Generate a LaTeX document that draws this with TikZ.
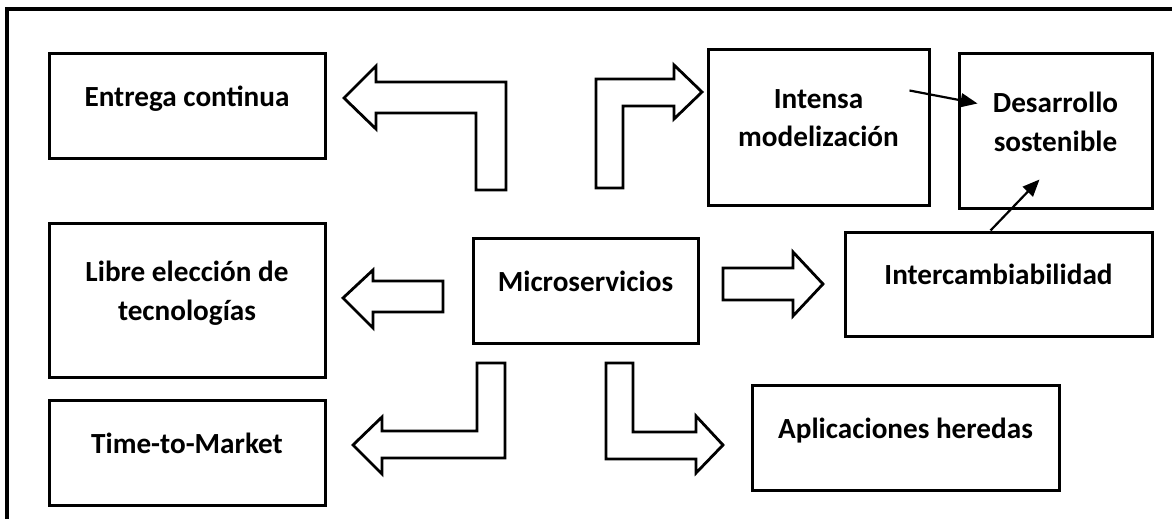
\documentclass[tikz,border=0pt]{standalone}
\usepackage{fontspec}
\setmainfont{Carlito}
\usetikzlibrary{arrows.meta}

\begin{document}
\begin{tikzpicture}[x=0.5pt, y=-0.5pt,
  box/.style={rectangle, draw, line width=1.5pt, align=center, inner sep=0pt,
    font=\fontsize{14.6}{19.3}\selectfont\bfseries, text depth=9.5pt},
  blockarrow/.style={draw, line width=1.4pt, fill=white, line join=miter},
  thinarrow/.style={-{Triangle[length=8.5pt, width=7pt]}, line width=1.1pt}]

  \useasboundingbox (0,0) rectangle (1172,519);

  % Outer frame (cut by the page on the right and at the bottom)
  \draw[line width=1.6pt] (7,540) |- (1190,9);

  % Boxes
  \node[box, minimum width=138pt, minimum height=52pt] (entrega) at (187,106) {Entrega continua};
  \node[box, minimum width=110.5pt, minimum height=77.5pt] (intensa) at (818.5,127.5) {Intensa\\modelización};
  \node[box, minimum width=96.5pt, minimum height=77pt] (desarrollo) at (1055.5,131) {Desarrollo\\sostenible};
  \node[box, minimum width=138pt, minimum height=77pt] (libre) at (187,300) {Libre elección de\\tecnologías};
  \node[box, minimum width=112.5pt, minimum height=52.5pt] (micro) at (585.5,290.5) {Microservicios};
  \node[box, minimum width=153.5pt, minimum height=52pt] (interc) at (998.5,284) {Intercambiabilidad};
  \node[box, minimum width=138pt, minimum height=52.5pt] (time) at (187,452.5) {Time-to-Market};
  \node[box, minimum width=153.5pt, minimum height=52.5pt] (aplic) at (905.5,437.5) {Aplicaciones heredas};

  % Block arrows around Microservicios
  \draw[blockarrow] (506,190) -- (506,82) -- (376,82) -- (376,66) -- (344,98)
    -- (376,129) -- (376,113) -- (476,113) -- (476,190) -- cycle;
  \draw[blockarrow] (596,188) -- (596,79) -- (674,79) -- (674,65) -- (702,92)
    -- (674,119) -- (674,106) -- (623,106) -- (623,188) -- cycle;
  \draw[blockarrow] (443,281) -- (373,281) -- (373,270) -- (343,298)
    -- (373,328) -- (373,312) -- (443,312) -- cycle;
  \draw[blockarrow] (723,268) -- (793,268) -- (793,252) -- (823,284)
    -- (793,316) -- (793,300) -- (723,300) -- cycle;
  \draw[blockarrow] (477,363) -- (505,363) -- (505,458) -- (382,458) -- (382,474)
    -- (353,445) -- (382,417) -- (382,431) -- (477,431) -- cycle;
  \draw[blockarrow] (606,363) -- (633,363) -- (633,432) -- (696,432) -- (696,416)
    -- (723,445) -- (696,473) -- (696,459) -- (606,459) -- cycle;

  % Arrows into Desarrollo sostenible
  \draw[thinarrow] ([shift={(-21,42)}]intensa.north east) -- ([shift={(20,51)}]desarrollo.north west);
  \draw[thinarrow] ([xshift=-4pt]interc.north) -- ([shift={(-16,-30)}]desarrollo.south);

\end{tikzpicture}
\end{document}
